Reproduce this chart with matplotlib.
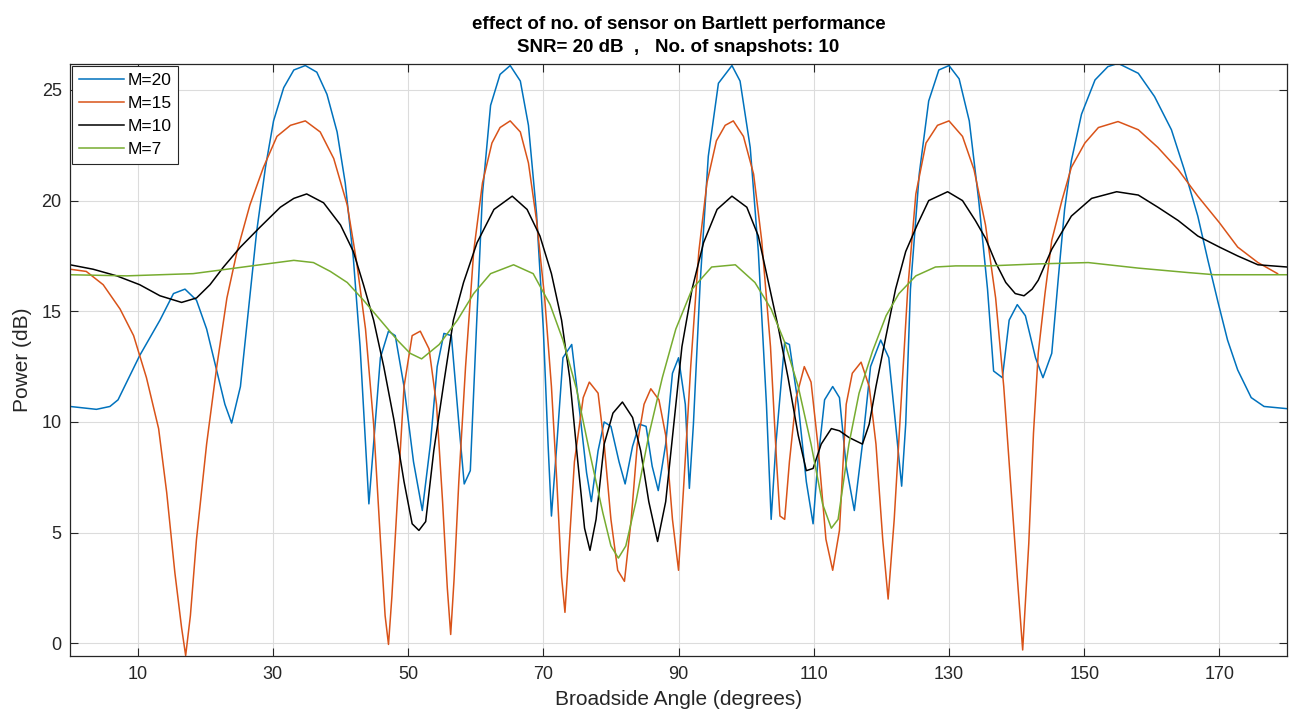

import matplotlib

matplotlib.use("Agg")

import matplotlib.pyplot as plt

# M = 20 sensors
m20_deg = [
    0.0, 3.9, 5.9, 7.1, 10.3, 13.3, 15.3, 17.0, 18.7, 20.2, 21.7, 22.9,
    23.9, 25.2, 26.4, 27.6, 28.9, 30.1, 31.6, 33.1, 34.8, 36.5, 38.0, 39.5,
    40.7, 41.9, 42.9, 43.7, 44.2, 44.9, 45.9, 47.1, 48.1, 49.4, 50.8, 52.1,
    53.3, 54.3, 55.3, 56.4, 57.6, 58.3, 59.2, 60.1, 61.0, 62.2, 63.6, 65.1,
    66.6, 67.8, 69.0, 70.0, 70.7, 71.2, 72.0, 72.9, 74.2, 75.4, 76.4, 77.1,
    78.1, 79.0, 80.0, 81.2, 82.1, 83.2, 84.2, 85.2, 86.1, 87.0, 88.1, 89.1,
    90.0, 91.0, 91.6, 92.2, 93.2, 94.4, 95.9, 97.9, 99.1, 100.6, 101.8,
    103.0, 103.7, 104.4, 105.7, 106.4, 107.7, 108.9, 109.9, 110.6, 111.6,
    112.8, 113.8, 114.8, 116.0, 117.2, 118.4, 119.9, 121.1, 122.1, 123.0,
    123.6, 124.3, 125.6, 127.0, 128.5, 130.0, 131.5, 133.0, 134.4, 135.7,
    136.6, 137.9, 138.9, 140.1, 141.3, 142.8, 143.9, 145.2, 146.2, 147.1,
    148.1, 149.6, 151.6, 153.5, 155.0, 158.0, 160.4, 162.9, 164.8, 166.8,
    168.3, 169.8, 171.2, 172.7, 174.7, 176.6, 180.0,
]
m20_power = [
    10.7, 10.57, 10.7, 11.0, 13.0, 14.6, 15.8, 16.0, 15.5, 14.2, 12.3, 10.8,
    9.95, 11.6, 15.1, 18.6, 21.5, 23.6, 25.1, 25.9, 26.1, 25.8, 24.8, 23.1,
    20.8, 17.4, 13.4, 9.0, 6.3, 9.0, 12.9, 14.1, 13.9, 11.6, 8.2, 6.0,
    9.0, 12.5, 14.0, 13.9, 9.6, 7.2, 7.8, 14.2, 20.3, 24.3, 25.7, 26.1,
    25.4, 23.4, 19.4, 14.2, 9.0, 5.75, 9.0, 12.9, 13.5, 10.4, 7.7, 6.4,
    8.7, 10.0, 9.8, 8.2, 7.2, 8.9, 9.9, 9.8, 8.0, 6.9, 9.0, 12.2,
    12.9, 10.8, 7.0, 9.9, 16.3, 22.0, 25.3, 26.1, 25.4, 22.4, 17.7,
    10.8, 5.6, 9.0, 13.6, 13.5, 10.8, 7.3, 5.4, 8.2, 11.0,
    11.6, 11.1, 8.0, 6.0, 9.0, 12.5, 13.7, 12.9, 9.9, 7.1,
    9.9, 16.0, 21.2, 24.5, 25.9, 26.1, 25.5, 23.6, 20.0, 16.0,
    12.3, 12.0, 14.6, 15.3, 14.8, 12.9, 12.0, 13.1, 16.6, 19.6,
    21.8, 23.9, 25.45, 26.05, 26.2, 25.75, 24.7, 23.2, 21.4, 19.3,
    17.3, 15.4, 13.7, 12.35, 11.1, 10.7, 10.6,
]

# M = 15 sensors
m15_deg = [
    0.0, 2.4, 4.9, 7.4, 9.4, 11.3, 13.1, 14.3, 15.5, 16.5, 17.1, 17.8,
    18.7, 20.2, 21.7, 23.2, 24.7, 26.6, 28.6, 30.6, 32.6, 34.8, 37.0, 39.0,
    41.0, 42.4, 43.7, 44.9, 45.9, 46.6, 47.1, 47.6, 48.4, 49.4, 50.6, 51.8,
    53.1, 54.2, 55.1, 55.8, 56.3, 56.8, 57.5, 58.5, 59.7, 61.0, 62.4, 63.6,
    65.1, 66.6, 67.8, 69.0, 70.2, 71.2, 72.0, 72.7, 73.2, 73.7, 74.6, 75.9,
    76.8, 78.1, 79.0, 80.0, 81.0, 82.0, 83.0, 83.9, 84.9, 85.9, 87.1, 88.1,
    89.1, 90.0, 90.8, 91.8, 93.0, 94.2, 95.6, 96.9, 98.1, 99.6, 101.1,
    102.3, 103.6, 104.5, 105.0, 105.7, 106.4, 107.4, 108.6, 109.6, 110.6,
    111.8, 112.8, 113.8, 114.8, 115.7, 117.0, 118.2, 119.2, 120.2, 121.0,
    121.9, 122.9, 123.9, 125.1, 126.6, 128.3, 130.0, 132.0, 133.7, 135.4,
    136.9, 138.1, 139.1, 140.1, 140.9, 141.8, 142.5, 143.2, 144.2, 145.2,
    146.7, 148.1, 150.1, 152.1, 155.0, 158.0, 160.9, 163.9, 166.8, 170.0,
    172.7, 175.7, 178.6,
]
m15_power = [
    16.9, 16.8, 16.2, 15.1, 13.9, 12.0, 9.7, 6.8, 3.2, 0.7, -0.55, 1.25,
    4.7, 9.0, 12.5, 15.6, 17.7, 19.8, 21.5, 22.9, 23.4, 23.6, 23.1, 21.9,
    19.8, 17.2, 14.2, 9.9, 4.7, 1.25, -0.05, 2.1, 6.4, 11.6, 13.9, 14.1,
    13.3, 10.8, 6.4, 2.5, 0.4, 2.9, 7.3, 12.5, 17.7, 20.8, 22.6, 23.3,
    23.6, 23.1, 21.7, 19.1, 15.6, 11.6, 7.3, 3.0, 1.4, 3.8, 8.2, 11.1,
    11.8, 11.3, 9.0, 5.6, 3.3, 2.8, 5.6, 9.0, 10.8, 11.5, 11.0, 9.4,
    5.6, 3.3, 7.3, 12.5, 17.7, 20.8, 22.7, 23.4, 23.6, 22.9, 21.2,
    18.2, 13.4, 8.2, 5.75, 5.6, 8.2, 11.1, 12.5, 11.8, 9.0,
    4.7, 3.3, 5.1, 10.8, 12.2, 12.7, 11.6, 9.0, 4.7, 2.0,
    5.6, 10.8, 16.0, 20.3, 22.6, 23.4, 23.6, 22.9, 21.4, 18.9,
    15.6, 11.6, 7.3, 3.0, -0.3, 4.5, 9.5, 13.1, 15.8, 18.2,
    20.0, 21.5, 22.6, 23.3, 23.57, 23.2, 22.4, 21.4, 20.2, 19.0,
    17.9, 17.2, 16.7,
]

# M = 10 sensors
m10_deg = [
    0.0, 3.4, 6.9, 10.3, 13.3, 16.5, 18.7, 20.7, 22.7, 25.2, 28.1, 31.1,
    33.1, 35.0, 37.5, 40.0, 41.9, 43.4, 44.9, 46.4, 47.9, 49.4, 50.6, 51.6,
    52.6, 53.8, 55.3, 56.7, 58.2, 60.2, 62.7, 65.4, 67.6, 69.5, 71.2, 72.7,
    73.9, 75.1, 76.1, 76.9, 77.8, 79.0, 80.3, 81.7, 83.2, 84.4, 85.6, 86.9,
    88.1, 89.3, 90.5, 92.0, 93.7, 95.7, 97.9, 100.1, 101.8, 103.3, 104.8,
    106.2, 107.7, 108.9, 109.9, 111.1, 112.6, 113.8, 115.2, 117.2, 118.2,
    119.2, 120.7, 122.1, 123.6, 125.3, 127.0, 129.8, 132.0, 133.9, 135.4,
    136.9, 138.4, 139.8, 141.1, 142.3, 143.2, 145.2, 148.1, 151.1, 154.8,
    158.0, 160.9, 163.9, 166.8, 170.0, 172.7, 175.7, 180.0,
]
m10_power = [
    17.1, 16.9, 16.6, 16.2, 15.7, 15.4, 15.6, 16.2, 17.0, 17.9, 18.8, 19.7,
    20.1, 20.3, 19.9, 18.9, 17.7, 16.2, 14.6, 12.5, 10.1, 7.3, 5.4, 5.1,
    5.5, 8.7, 11.8, 14.6, 16.3, 18.1, 19.6, 20.2, 19.6, 18.4, 16.7, 14.6,
    12.0, 8.2, 5.2, 4.2, 5.6, 9.0, 10.4, 10.9, 10.2, 8.7, 6.4, 4.6,
    6.4, 9.9, 13.4, 16.0, 18.1, 19.6, 20.2, 19.7, 18.4, 16.3, 14.2,
    12.0, 9.4, 7.8, 7.9, 9.0, 9.7, 9.6, 9.3, 9.0, 9.9,
    11.6, 13.9, 16.0, 17.7, 18.9, 20.0, 20.4, 20.0, 19.1, 18.3,
    17.2, 16.3, 15.8, 15.7, 16.0, 16.4, 17.8, 19.3, 20.1, 20.4,
    20.25, 19.7, 19.1, 18.4, 17.9, 17.5, 17.1, 17.0,
]

# M = 7 sensors
m7_deg = [
    0.0, 8.4, 18.2, 23.2, 28.1, 33.1, 36.0, 38.5, 41.0, 43.4, 45.9, 48.4,
    50.3, 52.0, 54.6, 57.3, 59.7, 62.2, 65.6, 68.5, 71.0, 72.9, 74.9, 76.8,
    78.8, 80.0, 81.1, 82.2, 83.7, 85.6, 87.6, 89.6, 92.0, 94.9, 98.4, 101.3,
    103.7, 105.7, 107.7, 109.6, 111.3, 112.6, 113.6, 115.2, 116.7, 118.7,
    120.7, 122.6, 125.1, 128.0, 131.0, 135.9, 143.2, 150.6, 158.0, 165.3,
    169.3, 180.0,
]
m7_power = [
    16.65, 16.6, 16.7, 16.9, 17.1, 17.3, 17.2, 16.8, 16.3, 15.5, 14.6, 13.7,
    13.1, 12.85, 13.5, 14.6, 15.8, 16.7, 17.1, 16.7, 15.3, 13.7, 11.5, 8.7,
    5.9, 4.4, 3.85, 4.4, 6.4, 9.4, 12.0, 14.2, 16.0, 17.0, 17.1, 16.3,
    15.1, 13.6, 11.6, 9.0, 6.3, 5.2, 5.6, 9.0, 11.3, 13.2,
    14.8, 15.8, 16.6, 17.0, 17.05, 17.05, 17.14, 17.2, 16.95, 16.75,
    16.65, 16.65,
]

series = [
    ("M=20", m20_deg, m20_power, "#0072BD"),
    ("M=15", m15_deg, m15_power, "#D95319"),
    ("M=10", m10_deg, m10_power, "#000000"),
    ("M=7", m7_deg, m7_power, "#77AC30"),
]

x_ticks = [10, 30, 50, 70, 90, 110, 130, 150, 170]
y_ticks = [0, 5, 10, 15, 20, 25]

plt.rcParams["font.family"] = ["Liberation Sans", "DejaVu Sans"]

figure = plt.figure(figsize=(12.9, 7.24), dpi=100)
axes = figure.add_axes([0.0543, 0.094, 0.9434, 0.8176])

for label, deg, power, color in series:
    axes.plot(deg, power, color=color, linewidth=1.1, label=label)

axes.set_xlim(0, 180)
axes.set_ylim(-0.57, 26.17)
axes.set_xticks(x_ticks)
axes.set_yticks(y_ticks)
axes.tick_params(
    direction="in", top=True, right=True, labelsize=13,
    length=6, width=0.8, colors="#262626",
)
axes.tick_params(axis="x", pad=7)
axes.tick_params(axis="y", pad=6)
axes.grid(True, color="#dcdcdc", linewidth=0.8)
axes.set_axisbelow(True)
for spine in axes.spines.values():
    spine.set_color("#262626")
    spine.set_linewidth(0.9)

axes.set_xlabel(
    "Broadside Angle (degrees)", fontsize=15, color="#262626", labelpad=5,
)
axes.set_ylabel("Power (dB)", fontsize=15, color="#262626", labelpad=7)
axes.set_title(
    "effect of no. of sensor on Bartlett performance\n"
    "SNR= 20 dB  ,   No. of snapshots: 10",
    fontsize=13.5, fontweight="bold", color="#000000", linespacing=1.4,
    pad=9,
)

legend = axes.legend(
    loc="upper left", fontsize=12.5, fancybox=False, framealpha=1,
    edgecolor="#262626", borderaxespad=0.1, handlelength=2.6,
    handletextpad=0.2, labelspacing=0.45, borderpad=0.4,
)
legend.get_frame().set_linewidth(0.8)

figure.savefig("out.png", dpi=100)
plt.close(figure)
